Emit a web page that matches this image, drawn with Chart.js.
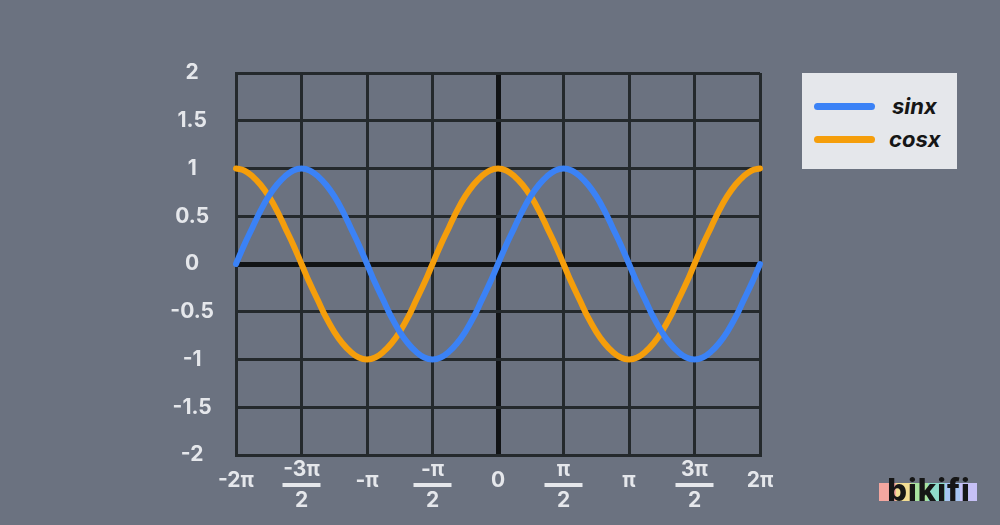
<!DOCTYPE html>
<html>
<head>
<meta charset="utf-8">
<script src="https://cdn.jsdelivr.net/npm/chart.js@4/dist/chart.umd.min.js"></script>
<style>
  html, body { margin: 0; padding: 0; background: #6b7280; }
  #wrap { position: relative; width: 1000px; height: 525px; }
  #legend {
    position: absolute; left: 802px; top: 73px; width: 155px; height: 96px;
    background: #e5e7eb; font-family: Inter, "Open Sans", sans-serif;
  }
  .row { position: absolute; left: 12px; height: 24px; display: flex; align-items: center; }
  .swatch { width: 61px; height: 7px; border-radius: 4px; margin-right: 14px; }
  .lbl { font-style: italic; font-weight: 700; font-size: 22px; color: #161616; }
  #logo {
    position: absolute; left: 879px; top: 470px; width: 100px; height: 40px;
    font-family: Inter, "Open Sans", sans-serif; font-weight: 800; font-size: 31px;
    color: #161616; text-align: center; line-height: 40px; letter-spacing: 1px;
  }
  #logo .bands {
    position: absolute; left: 0px; right: 2px; top: 13px; height: 18px;
    background: linear-gradient(90deg, #f4a7a0 0%, #f4a7a0 17%, #f3de95 17%, #f3de95 33%,
      #a9e3a0 33%, #a9e3a0 50%, #8fdccc 50%, #8fdccc 67%, #a7c6f3 67%, #a7c6f3 83%, #c6c0f6 83%);
  }
  #logo span.t { position: relative; }
</style>
</head>
<body>
<div id="wrap">
  <canvas id="chart" width="1000" height="525"></canvas>
  <div id="legend">
    <div class="row" style="top:21px"><div class="swatch" style="background:#3b82f6"></div><span class="lbl" style="margin-left:3px">sinx</span></div>
    <div class="row" style="top:54px"><div class="swatch" style="background:#f59e0b"></div><span class="lbl">cosx</span></div>
  </div>
  <div id="logo"><div class="bands"></div><span class="t">bikifi</span></div>
</div>
<script>
// x positions in units of pi, every pi/16
const xValues = [-2, -1.9375, -1.875, -1.8125, -1.75, -1.6875, -1.625, -1.5625,
  -1.5, -1.4375, -1.375, -1.3125, -1.25, -1.1875, -1.125, -1.0625,
  -1, -0.9375, -0.875, -0.8125, -0.75, -0.6875, -0.625, -0.5625,
  -0.5, -0.4375, -0.375, -0.3125, -0.25, -0.1875, -0.125, -0.0625,
  0, 0.0625, 0.125, 0.1875, 0.25, 0.3125, 0.375, 0.4375,
  0.5, 0.5625, 0.625, 0.6875, 0.75, 0.8125, 0.875, 0.9375,
  1, 1.0625, 1.125, 1.1875, 1.25, 1.3125, 1.375, 1.4375,
  1.5, 1.5625, 1.625, 1.6875, 1.75, 1.8125, 1.875, 1.9375, 2];

const sinValues = [0, 0.2, 0.38, 0.56, 0.71, 0.83, 0.92, 0.98,
  1, 0.98, 0.92, 0.83, 0.71, 0.56, 0.38, 0.2,
  0, -0.2, -0.38, -0.56, -0.71, -0.83, -0.92, -0.98,
  -1, -0.98, -0.92, -0.83, -0.71, -0.56, -0.38, -0.2,
  0, 0.2, 0.38, 0.56, 0.71, 0.83, 0.92, 0.98,
  1, 0.98, 0.92, 0.83, 0.71, 0.56, 0.38, 0.2,
  0, -0.2, -0.38, -0.56, -0.71, -0.83, -0.92, -0.98,
  -1, -0.98, -0.92, -0.83, -0.71, -0.56, -0.38, -0.2, 0];

const cosValues = [1, 0.98, 0.92, 0.83, 0.71, 0.56, 0.38, 0.2,
  0, -0.2, -0.38, -0.56, -0.71, -0.83, -0.92, -0.98,
  -1, -0.98, -0.92, -0.83, -0.71, -0.56, -0.38, -0.2,
  0, 0.2, 0.38, 0.56, 0.71, 0.83, 0.92, 0.98,
  1, 0.98, 0.92, 0.83, 0.71, 0.56, 0.38, 0.2,
  0, -0.2, -0.38, -0.56, -0.71, -0.83, -0.92, -0.98,
  -1, -0.98, -0.92, -0.83, -0.71, -0.56, -0.38, -0.2,
  0, 0.2, 0.38, 0.56, 0.71, 0.83, 0.92, 0.98, 1];

// x tick labels: [numerator, denominator] or plain text
const xTickValues = [-2, -1.5, -1, -0.5, 0, 0.5, 1, 1.5, 2];
const xTickLabels = [['-2π'], ['-3π', '2'], ['-π'], ['-π', '2'], ['0'],
  ['π', '2'], ['π'], ['3π', '2'], ['2π']];

const textColor = '#e5e7eb';
const gridColor = '#24292c';
const axisColor = '#111315';
const labelFont = 'bold 21px Inter, "Open Sans", sans-serif';

const toPoints = ys => ys.map((y, i) => ({ x: xValues[i], y: y }));

// Draws the pi tick labels (fractions) under the x axis
const piLabels = {
  id: 'piLabels',
  afterDraw(chart) {
    const ctx = chart.ctx;
    const scale = chart.scales.x;
    const base = chart.chartArea.bottom;
    ctx.save();
    ctx.fillStyle = textColor;
    ctx.strokeStyle = textColor;
    ctx.font = labelFont;
    ctx.textAlign = 'center';
    ctx.textBaseline = 'middle';
    xTickValues.forEach((v, i) => {
      const px = scale.getPixelForValue(v);
      const lab = xTickLabels[i];
      if (lab.length === 1) {
        ctx.fillText(lab[0], px, base + 26);
      } else {
        ctx.fillText(lab[0], px, base + 15);
        ctx.fillText(lab[1], px, base + 46);
        ctx.lineWidth = 4;
        ctx.beginPath();
        ctx.moveTo(px - 19, base + 30);
        ctx.lineTo(px + 19, base + 30);
        ctx.stroke();
      }
    });
    ctx.restore();
  }
};

new Chart(document.getElementById('chart'), {
  type: 'line',
  data: {
    datasets: [
      {
        label: 'sinx',
        data: toPoints(sinValues),
        borderColor: '#3b82f6',
        borderWidth: 6,
        borderCapStyle: 'round',
        pointRadius: 0,
        tension: 0.4,
        clip: 6
      },
      {
        label: 'cosx',
        data: toPoints(cosValues),
        borderColor: '#f59e0b',
        borderWidth: 6,
        borderCapStyle: 'round',
        pointRadius: 0,
        tension: 0.4,
        clip: 6,
        order: 1
      }
    ]
  },
  options: {
    responsive: false,
    animation: false,
    layout: { padding: { top: 73, right: 240, left: 0, bottom: 0 } },
    plugins: { legend: { display: false }, tooltip: { enabled: false } },
    scales: {
      x: {
        type: 'linear',
        min: -2,
        max: 2,
        afterFit: s => { s.height = 70; },
        ticks: { stepSize: 0.5, display: false },
        grid: {
          drawTicks: false,
          color: ctx => ctx.tick && ctx.tick.value === 0 ? axisColor : gridColor,
          lineWidth: ctx => ctx.tick && ctx.tick.value === 0 ? 5 : 3
        },
        border: { color: gridColor, width: 3 }
      },
      y: {
        min: -2,
        max: 2,
        afterFit: s => { s.width = 236; },
        ticks: {
          stepSize: 0.5,
          color: textColor,
          font: { family: 'Inter, "Open Sans", sans-serif', size: 21, weight: 'bold' },
          crossAlign: 'center',
          padding: 22,
          callback: v => String(v)
        },
        grid: {
          drawTicks: false,
          color: ctx => ctx.tick && ctx.tick.value === 0 ? axisColor : gridColor,
          lineWidth: ctx => ctx.tick && ctx.tick.value === 0 ? 5 : 3
        },
        border: { color: gridColor, width: 3 }
      }
    }
  },
  plugins: [piLabels]
});
</script>
</body>
</html>
